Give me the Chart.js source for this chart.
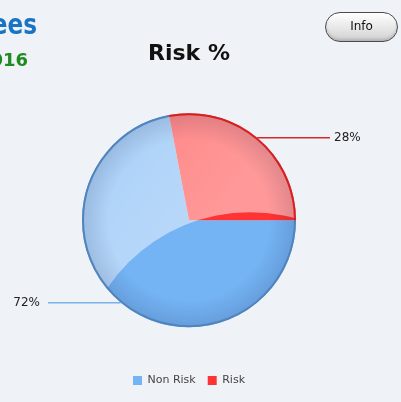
<!DOCTYPE html>
<html lang="en">
  <head>
    <meta charset="UTF-8" />
    <script src="https://cdn.jsdelivr.net/npm/chart.js@4/dist/chart.umd.min.js"></script>
    <title>Risk %</title>
    <style>
      body { margin: 0; background: #eff3f8; width: 401px; height: 402px; overflow: hidden; position: relative; font-family: "DejaVu Sans", sans-serif; }
      #wrap { position: absolute; left: 0; top: 0; width: 401px; height: 402px; }
      .head1 { position: absolute; right: 364px; top: 7px; white-space: nowrap; color: #1a74c4; font-weight: bold; font-size: 29px; transform: scaleX(0.8); transform-origin: right center; }
      .head2 { position: absolute; right: 373px; top: 49px; white-space: nowrap; color: #1f8b1f; font-weight: bold; font-size: 18px; }
      .info { position: absolute; left: 325px; top: 12px; width: 73px; height: 30px; box-sizing: border-box; border: 1.5px solid #4a4a4a; border-radius: 15px; background: linear-gradient(#ffffff, #e4e4e4 60%, #cfcfcf); font: 12px "DejaVu Sans", sans-serif; color: #111; text-align: center; line-height: 27px; box-shadow: inset 0 -2px 3px rgba(0,0,0,0.15); }
    </style>
  </head>
  <body>
    <div id="wrap"><canvas id="chart" width="401" height="402"></canvas></div>
    <div class="head1">Employees</div>
    <div class="head2">2016</div>
    <div class="info">Info</div>
    <script>
      const categories = ["Non Risk", "Risk"];
      const values = [72, 28];
      const pctLabels = ["72%", "28%"];
      const baseColors = ["#74b3f4", "#ff3333"];
      const rimColors = ["#4f84bd", "#d42020"];
      const lineColors = ["#79b1ea", "#d62a2a"];

      // gloss, rim, leader lines + percent text
      const labelPlugin = {
        id: "leaders",
        afterDatasetsDraw(chart) {
          const ctx = chart.ctx;
          const arcs = chart.getDatasetMeta(0).data;
          const a0 = arcs[0];
          const r = a0.outerRadius;
          // gloss = pie minus a big circle at the lower right
          ctx.save();
          ctx.beginPath();
          ctx.arc(a0.x, a0.y, r, 0, Math.PI * 2);
          ctx.clip();
          ctx.beginPath();
          ctx.arc(a0.x, a0.y, r, 0, Math.PI * 2);
          ctx.moveTo(a0.x + 61 + 172, a0.y + 164);
          ctx.arc(a0.x + 61, a0.y + 164, 172, 0, Math.PI * 2);
          const lg = ctx.createLinearGradient(a0.x - r, a0.y - r, a0.x + r * 0.3, a0.y);
          lg.addColorStop(0, "rgba(255,255,255,0.38)");
          lg.addColorStop(1, "rgba(255,255,255,0.5)");
          ctx.fillStyle = lg;
          ctx.fill("evenodd");
          ctx.restore();
          // rim shading
          ctx.save();
          const rg = ctx.createRadialGradient(a0.x, a0.y, r * 0.75, a0.x, a0.y, r);
          rg.addColorStop(0, "rgba(0,0,40,0)");
          rg.addColorStop(1, "rgba(0,0,40,0.12)");
          ctx.beginPath();
          ctx.arc(a0.x, a0.y, r, 0, Math.PI * 2);
          ctx.fillStyle = rg;
          ctx.fill();
          arcs.forEach((a, i) => {
            ctx.beginPath();
            ctx.arc(a.x, a.y, a.outerRadius - 1, a.startAngle, a.endAngle);
            ctx.strokeStyle = rimColors[i];
            ctx.lineWidth = 2;
            ctx.stroke();
          });
          ctx.restore();

          ctx.save();
          ctx.font = "12px 'DejaVu Sans', sans-serif";
          ctx.textBaseline = "middle";
          arcs.forEach((a, i) => {
            const mid = (a.startAngle + a.endAngle) / 2;
            const px = a.x + Math.cos(mid) * a.outerRadius;
            const py = a.y + Math.sin(mid) * a.outerRadius;
            const right = Math.cos(mid) >= 0;
            const ex = right ? a.x + 141 : a.x - 141;
            ctx.beginPath();
            ctx.moveTo(px, py);
            ctx.lineTo(ex, py);
            ctx.strokeStyle = lineColors[i];
            ctx.lineWidth = 1.5;
            ctx.stroke();
            ctx.fillStyle = "#222";
            ctx.textAlign = right ? "left" : "right";
            ctx.fillText(pctLabels[i], right ? ex + 4 : ex - 8, py);
          });
          ctx.restore();
        }
      };

      new Chart(document.getElementById("chart"), {
        type: "pie",
        data: {
          labels: categories,
          datasets: [
            {
              data: values,
              backgroundColor: baseColors,
              borderWidth: 0,
              radius: 107,
            },
          ],
        },
        options: {
          responsive: false,
          animation: false,
          rotation: 90,
          layout: { padding: { left: 0, right: 23, top: 0, bottom: 6 } },
          plugins: {
            tooltip: { enabled: false },
            title: {
              display: true,
              text: "Risk %",
              color: "#111",
              font: { family: "DejaVu Sans", size: 22, weight: "bold" },
              padding: { top: 41, bottom: 10 },
            },
            legend: {
              position: "bottom",
              labels: {
                boxWidth: 9,
                boxHeight: 9,
                padding: 12,
                color: "#444",
                font: { family: "DejaVu Sans", size: 11 },
              },
            },
          },
        },
        plugins: [labelPlugin],
      });
    </script>
  </body>
</html>
